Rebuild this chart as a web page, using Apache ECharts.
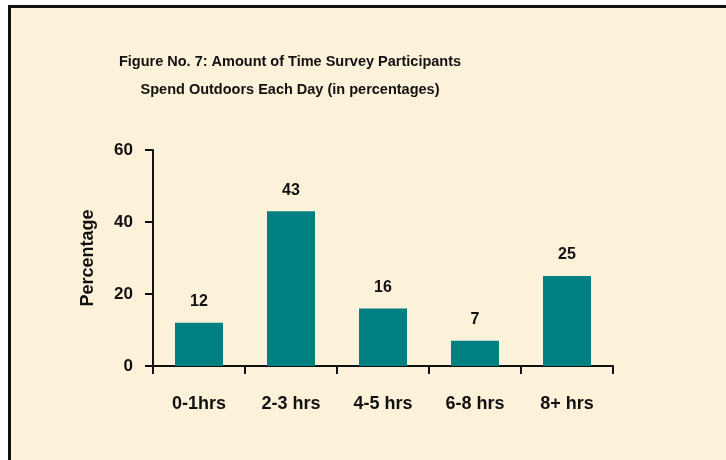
<!DOCTYPE html>
<html>
<head>
<meta charset="utf-8">
<script src="https://cdn.jsdelivr.net/npm/echarts@6/dist/echarts.min.js"></script>
<style>
  html, body { margin: 0; padding: 0; background: #fff; overflow: hidden; }
  #frame {
    position: absolute; left: 8px; top: 5px; width: 800px; height: 600px;
    border: 3px solid #111; background: #fcf1d9;
  }
  #chart { position: absolute; left: 0; top: 0; width: 726px; height: 460px; }
</style>
</head>
<body>
<div id="frame"></div>
<div id="chart"></div>
<script>
// categories and values
var categories = ['0-1hrs', '2-3 hrs', '4-5 hrs', '6-8 hrs', '8+ hrs'];
var percentages = [12, 43, 16, 7, 25];
var yTicks = [0, 20, 40, 60];

var titleLines = [
  'Figure No. 7: Amount of Time Survey Participants',
  'Spend Outdoors Each Day (in percentages)'
];

var arial = "'Liberation Sans', Arial, sans-serif";

var myChart = echarts.init(document.getElementById('chart'));
var option = {
  backgroundColor: 'transparent',
  animation: false,
  title: {
    text: titleLines.join('\n'),
    left: 285,
    top: 43,
    textAlign: 'center',
    textStyle: {
      fontFamily: arial,
      fontSize: 14.5,
      fontWeight: 'bold',
      color: '#111',
      lineHeight: 28
    }
  },
  grid: {
    left: 153,
    right: 113,
    top: 150,
    bottom: 94
  },
  xAxis: {
    type: 'category',
    data: categories,
    axisLine: { lineStyle: { color: '#111', width: 2 } },
    axisTick: { show: true, interval: 0, length: 8, lineStyle: { color: '#111', width: 2 } },
    axisLabel: {
      interval: 0,
      margin: 29,
      fontFamily: arial,
      fontSize: 18,
      fontWeight: 'bold',
      color: '#111'
    }
  },
  yAxis: {
    type: 'value',
    min: yTicks[0],
    max: yTicks[yTicks.length - 1],
    interval: yTicks[1] - yTicks[0],
    name: 'Percentage',
    nameLocation: 'middle',
    nameGap: 56,
    nameTextStyle: {
      fontFamily: arial,
      fontSize: 18,
      fontWeight: 'bold',
      color: '#111'
    },
    axisLine: { show: true, lineStyle: { color: '#111', width: 2 } },
    axisTick: { show: true, length: 8, lineStyle: { color: '#111', width: 2 } },
    splitLine: { show: false },
    axisLabel: {
      margin: 20,
      fontFamily: arial,
      fontSize: 17,
      fontWeight: 'bold',
      color: '#111'
    }
  },
  series: [
    {
      type: 'bar',
      data: percentages,
      barWidth: 48,
      itemStyle: { color: '#008080' },
      label: {
        show: true,
        position: 'top',
        distance: 13,
        fontFamily: arial,
        fontSize: 16,
        fontWeight: 'bold',
        color: '#111'
      }
    }
  ]
};
myChart.setOption(option);
</script>
</body>
</html>
